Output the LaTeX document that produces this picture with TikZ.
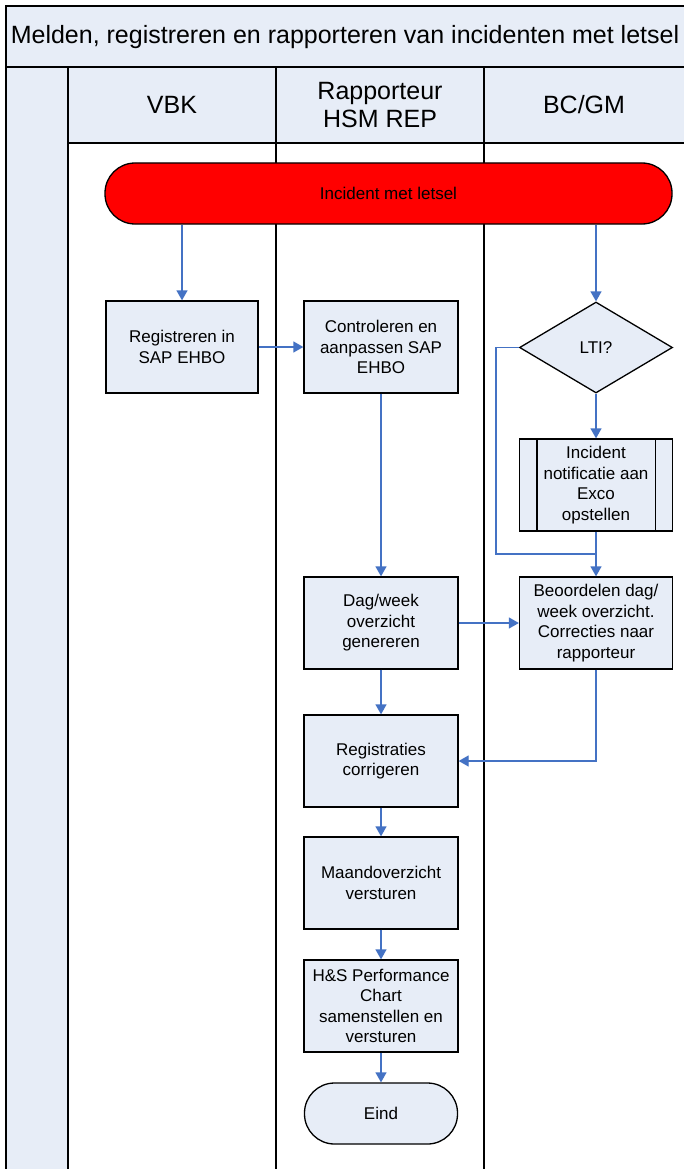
\documentclass[tikz,border=0pt]{standalone}
\usepackage{fontspec}
\setmainfont{Liberation Sans}
\usetikzlibrary{arrows.meta,shapes.geometric}
\definecolor{boxfill}{RGB}{231,237,247}
\definecolor{hdrfill}{RGB}{231,237,247}
\definecolor{conn}{RGB}{68,114,196}
\definecolor{incred}{RGB}{255,0,0}
\begin{document}
\begin{tikzpicture}[x=1pt,y=-1pt,
  lane/.style={draw=black,line width=1.6pt},
  proc/.style={draw=black,line width=1.3pt,fill=boxfill,minimum width=153pt,minimum height=92pt,
    align=center,inner sep=0pt,font=\fontsize{17}{20.5}\selectfont},
  decis/.style={diamond,draw=black,line width=1.3pt,fill=boxfill,minimum width=153pt,minimum height=91pt,
    aspect=1.68,inner sep=0pt,align=center,font=\fontsize{17}{20.5}\selectfont},
  term/.style={draw=black,line width=1.3pt,rounded corners=30pt,minimum height=61pt,
    align=center,inner sep=0pt,font=\fontsize{17}{20.5}\selectfont},
  hdr/.style={align=center,inner sep=0pt,font=\fontsize{25}{28}\selectfont},
  link/.style={draw=conn,line width=1.3pt},
  arr/.style={link,-{Triangle[length=10pt,width=11pt]}}
]
\useasboundingbox (0,0) rectangle (684,1169);
% pool background
\fill[white] (0,0) rectangle (684,1169);
\fill[hdrfill] (6,6) rectangle (690,143);
\fill[hdrfill] (6,67) rectangle (68,1180);
\draw[lane] (6,1180) -- (6,6) -- (690,6);
\draw[draw=black,line width=2.4pt] (6,67) -- (690,67);
\draw[lane] (68,143) -- (690,143);
\draw[lane] (68,67) -- (68,1180);
\draw[lane] (276,67) -- (276,1180);
\draw[lane] (484,67) -- (484,1180);
% titles
\node[hdr] (title) at (345,37) {Melden, registreren en rapporteren van incidenten met letsel};
\node[hdr] (hvbk) at (172,105) {VBK};
\node[hdr] (hrap) at (380,105) {Rapporteur\\HSM REP};
\node[hdr] (hbc) at (584,105) {BC/GM};
% nodes
\node[term,fill=incred,minimum width=567pt] (inc) at (388.5,193.5) {Incident met letsel};
\node[proc,minimum width=152pt] (reg) at (182,347) {Registreren in\\SAP EHBO};
\node[proc,minimum width=154pt] (ctrl) at (381,347) {Controleren en\\aanpassen SAP\\EHBO};
\node[decis] (lti) at (596,347.5) {LTI?};
\node[proc] (notif) at (596,485) {Incident\\notificatie aan\\Exco\\opstellen};
\draw[line width=1.3pt] ([xshift=18pt]notif.north west) -- ([xshift=18pt]notif.south west);
\draw[line width=1.3pt] ([xshift=-18pt]notif.north east) -- ([xshift=-18pt]notif.south east);
\node[proc,minimum width=154pt] (dag) at (381,623) {Dag/week\\overzicht\\genereren};
\node[proc] (beo) at (596,623) {Beoordelen dag/\\week overzicht.\\Correcties naar\\rapporteur};
\node[proc,minimum width=154pt] (corr) at (381,761) {Registraties\\corrigeren};
\node[proc,minimum width=154pt] (maand) at (381,883) {Maandoverzicht\\versturen};
\node[proc,minimum width=154pt] (hs) at (381,1006) {H\&S Performance\\Chart\\samenstellen en\\versturen};
\node[term,fill=boxfill,minimum width=153pt] (eind) at (381,1113.5) {Eind};
% connectors
\coordinate (fb) at (496,554);
\coordinate (join) at (596,554);
\draw[arr] (reg.north |- inc.south) -- (reg.north);
\draw[arr] (reg.east) -- (ctrl.west);
\draw[arr] (lti.north |- inc.south) -- (lti.north);
\draw[arr] (lti.south) -- (notif.north);
\draw[link] (lti.west) -| (fb) -- (join);
\draw[link] (notif.south) -- (join);
\draw[arr] (join) -- (beo.north);
\draw[arr] (ctrl.south) -- (dag.north);
\draw[arr] (dag.east) -- (beo.west);
\draw[arr] (dag.south) -- (corr.north);
\draw[arr] (beo.south) |- (corr.east);
\draw[arr] (corr.south) -- (maand.north);
\draw[arr] (maand.south) -- (hs.north);
\draw[arr] (hs.south) -- (eind.north);
\end{tikzpicture}
\end{document}
